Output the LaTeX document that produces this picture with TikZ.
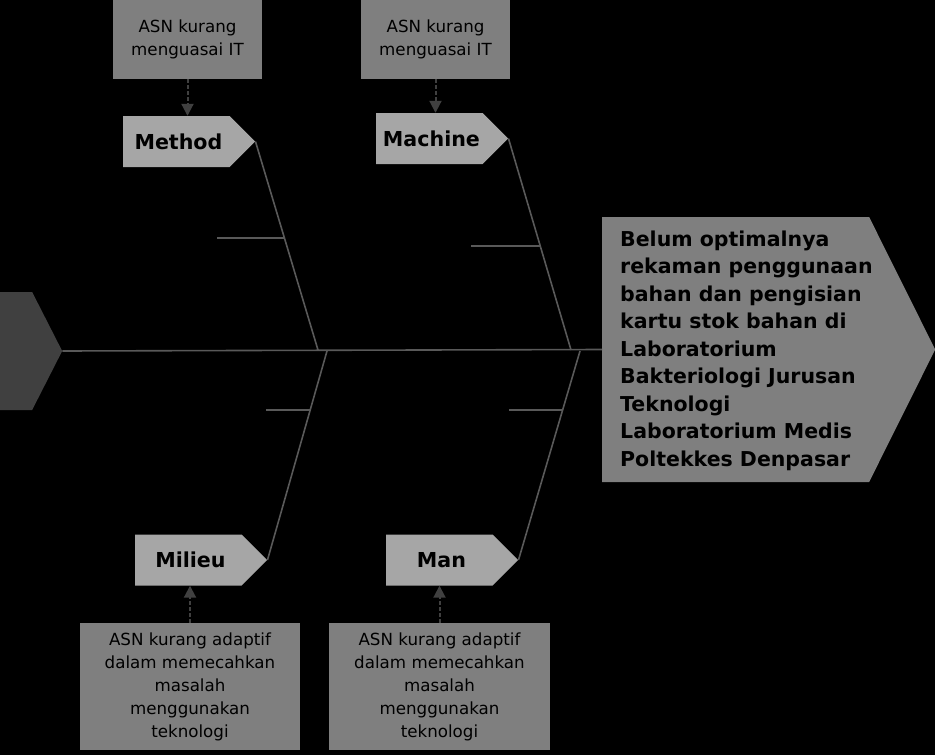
\documentclass[tikz,border=0pt]{standalone}
\usepackage{fontspec}
\setmainfont{DejaVu Sans}
\usetikzlibrary{arrows.meta,shapes.symbols,calc}
\definecolor{fishline}{HTML}{595959}
\definecolor{fishdark}{HTML}{404040}
\definecolor{fishmid}{HTML}{7F7F7F}
\definecolor{fishlight}{HTML}{A6A6A6}

\begin{document}
\begin{tikzpicture}[
  x=1pt,
  y=-1pt,
  every node/.style={text=black, inner sep=0pt},
  cause/.style={fill=fishmid, align=center, font=\fontsize{16.7}{23}\selectfont},
  category/.style={signal, signal to=east, signal pointer angle=90, fill=fishlight,
    minimum width=132pt, minimum height=51pt, font=\bfseries\fontsize{20.6}{24}\selectfont},
  bone/.style={fishline, line width=1.6pt},
  causearrow/.style={fishdark, line width=2pt, dash pattern=on 4pt off 2pt,
    -{Triangle[length=12pt, width=12pt]}}
]
  % ---- black page, fixed size ----
  \fill[black] (0,0) rectangle (935,755);
  \useasboundingbox (0,0) rectangle (935,755);

  % ---- head and tail of the fish ----
  \node[signal, signal to=east, signal pointer angle=127, fill=fishmid,
    minimum height=265pt, minimum width=333pt, anchor=west] (effect) at (602,349.5) {};
  \node[align=left, anchor=west, font=\bfseries\fontsize{20.5}{27.5}\selectfont]
    (effecttext) at (620,350.5)
    {Belum optimalnya\\rekaman penggunaan\\bahan dan pengisian\\kartu stok bahan di\\
     Laboratorium\\Bakteriologi Jurusan\\Teknologi\\Laboratorium Medis\\Poltekkes Denpasar};
  \node[signal, signal to=east, signal pointer angle=126, fill=fishdark,
    minimum height=118pt, minimum width=62pt, anchor=west] (tail) at (0,351) {};

  % ---- spine ----
  \draw[bone] (tail.east) -- (effect.west);

  % ---- categories ----
  \node[category, anchor=west] (method)  at (123,141.5) {\hspace*{4pt}Method};
  \node[category, anchor=west] (machine) at (376,138.5) {\hspace*{4pt}Machine};
  \node[category, anchor=west] (milieu)  at (135,560) {\hspace*{4pt}Milieu};
  \node[category, anchor=west] (man)     at (386,560) {\hspace*{4pt}Man};

  % ---- bones, meeting the spine ----
  \coordinate (jmethod)  at (318,350);
  \coordinate (jmachine) at (571,350);
  \coordinate (jmilieu)  at (327,351);
  \coordinate (jman)     at (580,351);
  \draw[bone] (method.east)  -- (jmethod);
  \draw[bone] (machine.east) -- (jmachine);
  \draw[bone] (milieu.east)  -- (jmilieu);
  \draw[bone] (man.east)     -- (jman);

  % ---- short sub-bones, no labels ----
  \coordinate (smethod)  at ($(method.east)!0.464!(jmethod)$);
  \coordinate (smachine) at ($(machine.east)!0.507!(jmachine)$);
  \coordinate (smilieu)  at ($(jmilieu)!0.282!(milieu.east)$);
  \coordinate (sman)     at ($(jman)!0.282!(man.east)$);
  \draw[bone] (smethod)  -- ++(-67,0);
  \draw[bone] (smachine) -- ++(-69,0);
  \draw[bone] (smilieu)  -- ++(-44,0);
  \draw[bone] (sman)     -- ++(-54,0);

  % ---- causes ----
  \node[cause, minimum width=149pt, minimum height=79pt] (itmethod)  at (187.5,39.5)
    {ASN kurang\\menguasai IT};
  \node[cause, minimum width=149pt, minimum height=79pt] (itmachine) at (435.5,39.5)
    {ASN kurang\\menguasai IT};
  \node[cause, minimum width=220pt, minimum height=127pt] (admilieu) at (190,686.5)
    {ASN kurang adaptif\\dalam memecahkan\\masalah\\menggunakan\\teknologi};
  \node[cause, minimum width=221pt, minimum height=127pt] (adman) at (439.5,686.5)
    {ASN kurang adaptif\\dalam memecahkan\\masalah\\menggunakan\\teknologi};

  % ---- dashed arrows from cause to category ----
  \draw[causearrow] (itmethod.south)  -- (itmethod.south |- method.north);
  \draw[causearrow] (itmachine.south) -- (itmachine.south |- machine.north);
  \draw[causearrow] (admilieu.north)  -- (admilieu.north |- milieu.south);
  \draw[causearrow] (adman.north)     -- (adman.north |- man.south);
\end{tikzpicture}
\end{document}
